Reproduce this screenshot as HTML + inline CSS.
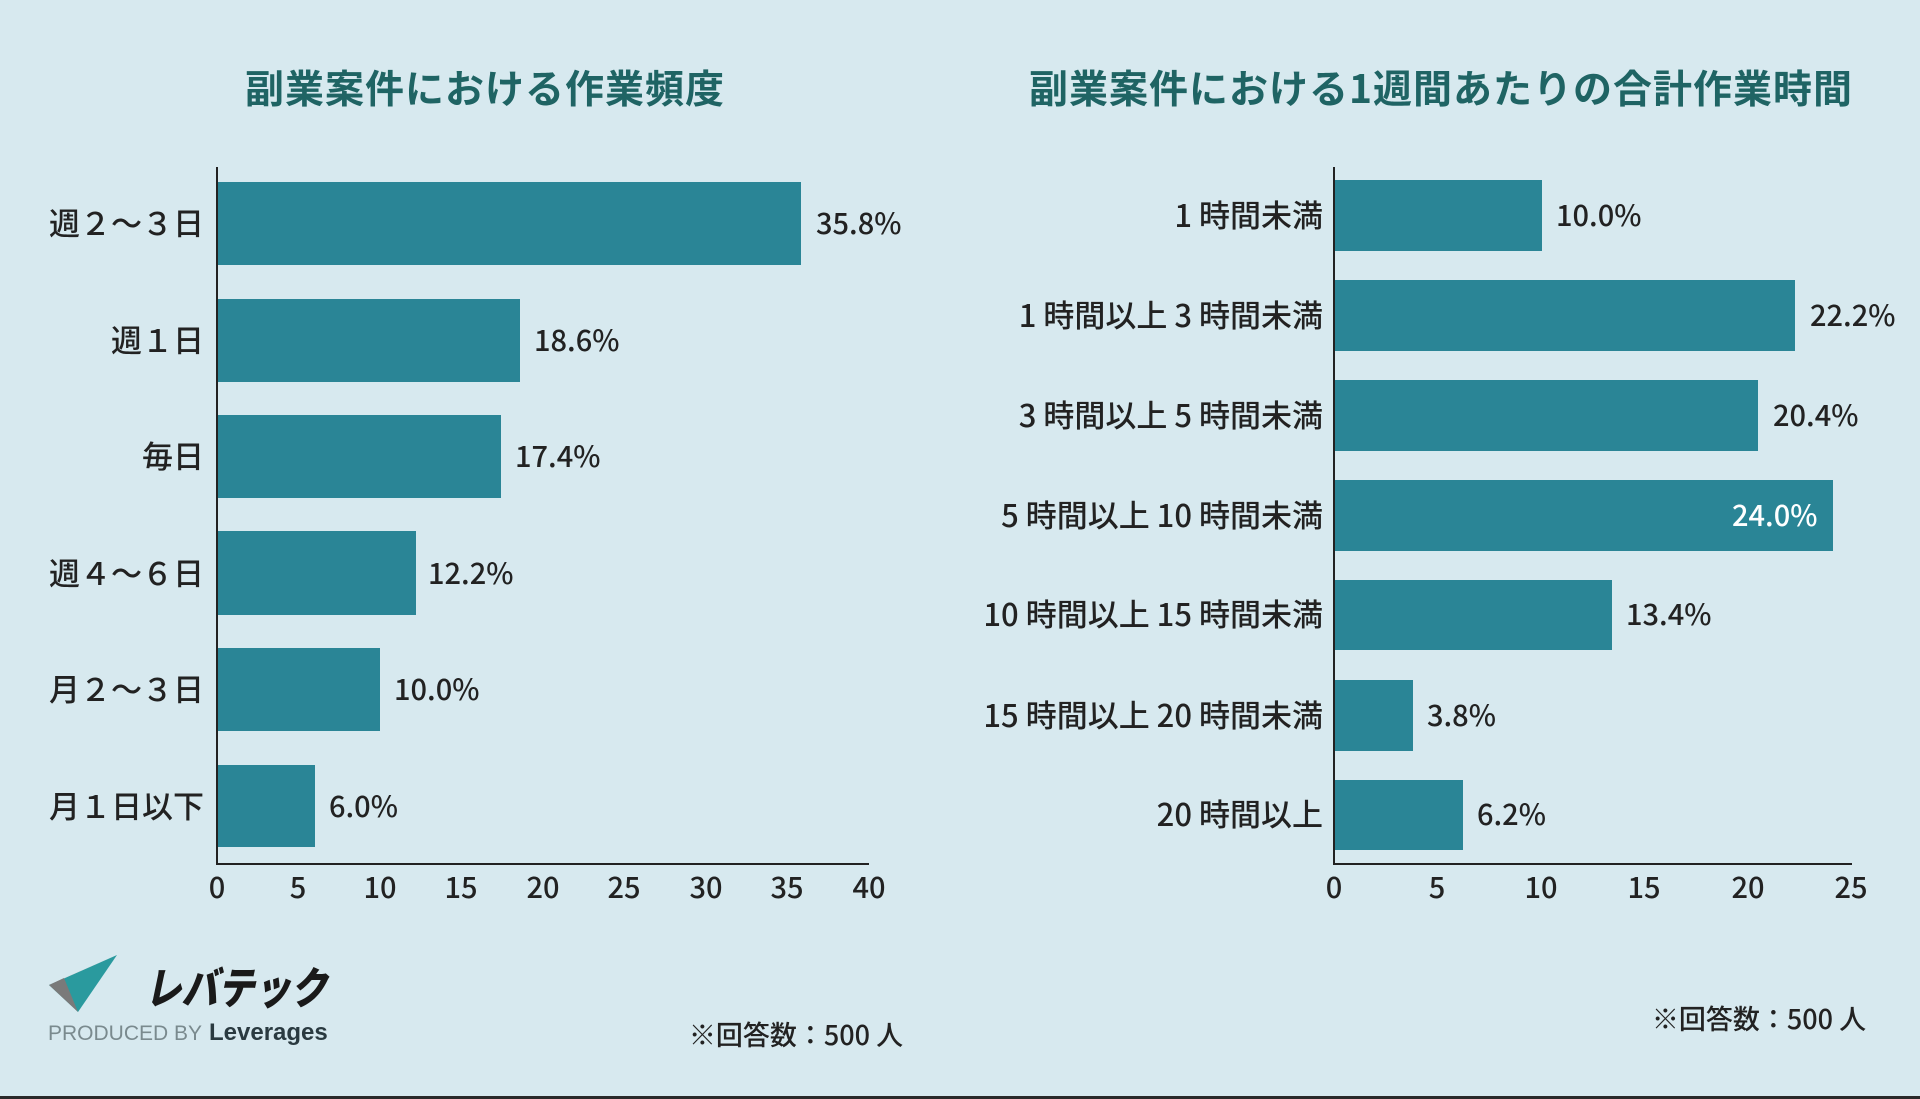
<!DOCTYPE html>
<html><head><meta charset="utf-8"><style>
html,body{margin:0;padding:0;background:#d7e9ef;}
svg{display:block;font-family:"Liberation Sans","Noto Sans CJK JP",sans-serif;}
</style></head><body>
<svg width="1920" height="1099" viewBox="0 0 1920 1099">
<rect width="1920" height="1099" fill="#d7e9ef"/>
<rect y="1096" width="1920" height="3" fill="#2a2a2a"/>
<g font-family="Noto Sans CJK JP, sans-serif" font-weight="bold" fill="#1f6464" font-size="39" text-anchor="middle">
<text x="485" y="103" letter-spacing="1">副業案件における作業頻度</text>
<text x="1441" y="103" letter-spacing="1">副業案件における1週間あたりの合計作業時間</text>
</g>
<!-- Left chart -->
<g fill="#2a8596">
<rect x="217" y="182" width="584" height="83"/>
<rect x="217" y="299" width="303" height="83"/>
<rect x="217" y="415" width="284" height="83"/>
<rect x="217" y="531" width="199" height="84"/>
<rect x="217" y="648" width="163" height="83"/>
<rect x="217" y="765" width="98" height="82"/>
</g>
<line x1="217" y1="167" x2="217" y2="865" stroke="#222" stroke-width="2"/>
<line x1="216" y1="864" x2="869" y2="864" stroke="#222" stroke-width="2"/>
<g font-family="Noto Sans CJK JP, sans-serif" font-size="31" font-weight="500" fill="#222" text-anchor="end">
<text x="204" y="235">週２～３日</text>
<text x="204" y="352">週１日</text>
<text x="204" y="468">毎日</text>
<text x="204" y="585">週４～６日</text>
<text x="204" y="701">月２～３日</text>
<text x="204" y="818">月１日以下</text>
</g>
<g font-family="Noto Sans CJK JP, sans-serif" font-size="29" font-weight="500" fill="#222">
<text x="816" y="234">35.8%</text>
<text x="534" y="351">18.6%</text>
<text x="515" y="467">17.4%</text>
<text x="428" y="584">12.2%</text>
<text x="394" y="700">10.0%</text>
<text x="329" y="817">6.0%</text>
</g>
<g font-family="Noto Sans CJK JP, sans-serif" font-size="29" font-weight="500" fill="#222" text-anchor="middle">
<text x="217" y="898">0</text><text x="298" y="898">5</text><text x="380" y="898">10</text><text x="461" y="898">15</text><text x="543" y="898">20</text><text x="624" y="898">25</text><text x="706" y="898">30</text><text x="787" y="898">35</text><text x="869" y="898">40</text>
</g>
<!-- Right chart -->
<g fill="#2a8596">
<rect x="1334" y="180" width="208" height="71"/>
<rect x="1334" y="280" width="461" height="71"/>
<rect x="1334" y="380" width="424" height="71"/>
<rect x="1334" y="480" width="499" height="71"/>
<rect x="1334" y="580" width="278" height="70"/>
<rect x="1334" y="680" width="79" height="71"/>
<rect x="1334" y="780" width="129" height="70"/>
</g>
<line x1="1334" y1="167" x2="1334" y2="865" stroke="#222" stroke-width="2"/>
<line x1="1333" y1="864" x2="1852" y2="864" stroke="#222" stroke-width="2"/>
<g font-family="Noto Sans CJK JP, sans-serif" font-size="31" font-weight="500" fill="#222" text-anchor="end">
<text x="1323" y="227">1 時間未満</text>
<text x="1323" y="327">1 時間以上 3 時間未満</text>
<text x="1323" y="427">3 時間以上 5 時間未満</text>
<text x="1323" y="527">5 時間以上 10 時間未満</text>
<text x="1323" y="626">10 時間以上 15 時間未満</text>
<text x="1323" y="727">15 時間以上 20 時間未満</text>
<text x="1323" y="826">20 時間以上</text>
</g>
<g font-family="Noto Sans CJK JP, sans-serif" font-size="29" font-weight="500" fill="#222">
<text x="1556" y="226">10.0%</text>
<text x="1810" y="326">22.2%</text>
<text x="1773" y="426">20.4%</text>
<text x="1732" y="526" fill="#fff">24.0%</text>
<text x="1626" y="625">13.4%</text>
<text x="1427" y="726">3.8%</text>
<text x="1477" y="825">6.2%</text>
</g>
<g font-family="Noto Sans CJK JP, sans-serif" font-size="29" font-weight="500" fill="#222" text-anchor="middle">
<text x="1334" y="898">0</text><text x="1437" y="898">5</text><text x="1541" y="898">10</text><text x="1644" y="898">15</text><text x="1748" y="898">20</text><text x="1851" y="898">25</text>
</g>
<!-- footnotes -->
<g font-family="Noto Sans CJK JP, sans-serif" font-size="27" font-weight="500" fill="#222" text-anchor="middle">
<text x="796" y="1045">※回答数：500 人</text>
<text x="1759" y="1029">※回答数：500 人</text>
</g>
<!-- logo -->
<polygon points="49,985 117,955 78,1012" fill="#2a9a9e"/>
<polygon points="49,985 117,955 64,978" fill="#d8d8d8"/>
<polygon points="49,985 64,978 78,1012" fill="#7a7a7a"/>
<text x="145" y="1004" font-family="Noto Sans CJK JP, sans-serif" font-weight="900" font-style="italic" font-size="44" fill="#1a1a1a" textLength="182" lengthAdjust="spacingAndGlyphs">レバテック</text>
<text x="48" y="1040" font-size="21" fill="#7a8a8e">PRODUCED BY</text>
<text x="209" y="1040" font-size="24" font-weight="bold" fill="#2a3a40">Leverages</text>
</svg>
</body></html>
